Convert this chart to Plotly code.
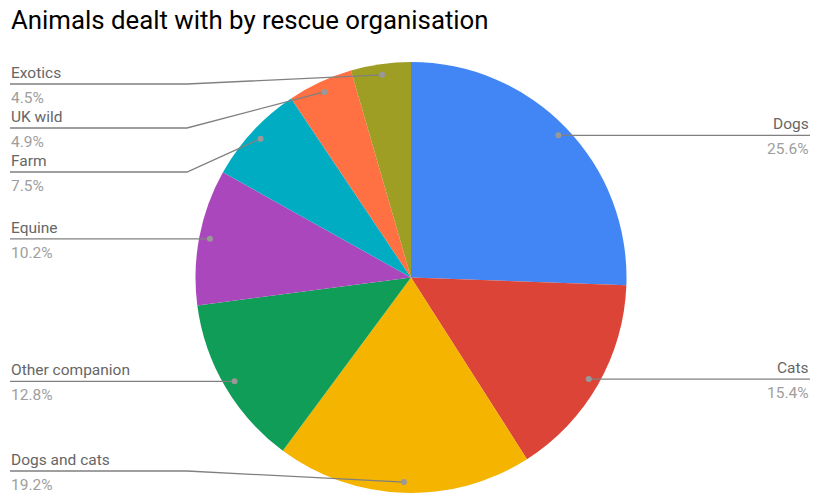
import math
import plotly.graph_objects as go

# ---- data ----
categories = ["Dogs", "Cats", "Dogs and cats", "Other companion", "Equine", "Farm", "UK wild", "Exotics"]
values = [25.6, 15.4, 19.2, 12.8, 10.2, 7.5, 4.9, 4.5]
colors = ["#4285F4", "#DB4437", "#F4B400", "#0F9D58", "#AB47BC", "#00ACC1", "#FF7043", "#9E9D24"]
title_text = "Animals dealt with by rescue organisation"

# ---- layout constants (screen pixels) ----
W, H = 813, 493
R = 216
CX = 411
CY = 278
LEFT_X, RIGHT_X = 10, 810
ELBOW_LEFT, ELBOW_RIGHT = 187, 626
TOP_LIM, BOT_LIM, GAP = 84, 471, 44
FONT = "Roboto"
FS = 15.5

def px(x):
    return x / W

def py(y):
    return 1 - y / H

total = sum(values)
fig = go.Figure()
fig.add_trace(go.Pie(
    labels=categories, values=values, sort=False, direction="clockwise", rotation=0,
    marker=dict(colors=colors, line=dict(width=0)),
    textinfo="none", hoverinfo="label+percent", showlegend=False,
    domain=dict(x=[px(CX - R), px(CX + R)], y=[0, py(CY - R)]),
))
# actual centre/radius used by plotly (domain centred)
PR = min(2 * R, H - (CY - R)) / 2
PCY = H - PR
DOT_R = 0.95 * PR

# compute dots and label positions from data
items = []
cum = 0.0
for name, v in zip(categories, values):
    mid = (cum + v / 2) / total * 2 * math.pi
    cum += v
    dx = CX + DOT_R * math.sin(mid)
    dy = PCY - DOT_R * math.cos(mid)
    side = "right" if math.sin(mid) > 0 else "left"
    items.append(dict(name=name, pct=v / total * 100, dx=dx, dy=dy, side=side,
                      ly=min(max(dy, TOP_LIM), BOT_LIM)))

for side in ("left", "right"):
    grp = sorted([it for it in items if it["side"] == side], key=lambda it: it["dy"])
    for i in range(1, len(grp)):
        grp[i]["ly"] = max(grp[i]["ly"], grp[i - 1]["ly"] + GAP)
    if grp and grp[-1]["ly"] > BOT_LIM:
        grp[-1]["ly"] = BOT_LIM
        for i in range(len(grp) - 2, -1, -1):
            grp[i]["ly"] = min(grp[i]["ly"], grp[i + 1]["ly"] - GAP)

shapes = []
annotations = []
LINE = dict(color="#808080", width=1.3)
for it in items:
    ly = it["ly"]
    if it["side"] == "left":
        tx, anchor, elbow = LEFT_X, "left", ELBOW_LEFT
    else:
        tx, anchor, elbow = RIGHT_X, "right", ELBOW_RIGHT
    if abs(ly - it["dy"]) > 0.5:
        path = f"M {px(tx)} {py(ly)} L {px(elbow)} {py(ly)} L {px(it['dx'])} {py(it['dy'])}"
    else:
        path = f"M {px(tx)} {py(ly)} L {px(it['dx'])} {py(it['dy'])}"
    shapes.append(dict(type="path", xref="paper", yref="paper", path=path, line=LINE, layer="above"))
    r = 3
    shapes.append(dict(type="circle", xref="paper", yref="paper",
                       x0=px(it["dx"] - r), x1=px(it["dx"] + r),
                       y0=py(it["dy"] + r), y1=py(it["dy"] - r),
                       fillcolor="#999999", line=dict(width=0), layer="above"))
    annotations.append(dict(x=px(tx), y=py(ly - 1), xref="paper", yref="paper",
                            text=it["name"], showarrow=False, xanchor=anchor, yanchor="bottom",
                            font=dict(family=FONT, size=FS, color="#666666"), borderpad=0))
    annotations.append(dict(x=px(tx), y=py(ly + 4), xref="paper", yref="paper",
                            text=f"{it['pct']:.1f}%", showarrow=False, xanchor=anchor, yanchor="top",
                            font=dict(family=FONT, size=FS, color="#9e9e9e"), borderpad=0))

annotations.append(dict(x=px(9), y=py(20), xref="paper", yref="paper", text=title_text,
                        showarrow=False, xanchor="left", yanchor="middle",
                        font=dict(family=FONT, size=25.8, color="#000000")))

fig.update_layout(
    width=W, height=H, margin=dict(l=0, r=0, t=0, b=0),
    paper_bgcolor="white", plot_bgcolor="white",
    shapes=shapes, annotations=annotations, showlegend=False,
)
fig.write_html("out.html", config={"displayModeBar": False},
               post_script="document.body.style.margin='0';document.body.style.overflow='hidden';")
